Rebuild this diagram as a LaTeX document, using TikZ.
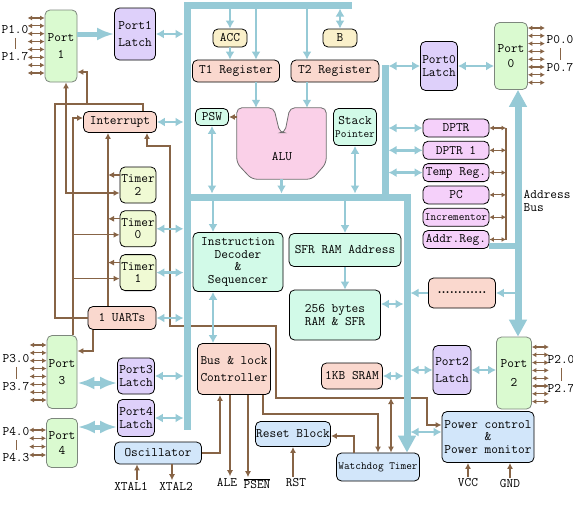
\documentclass[tikz,border=0pt]{standalone}
\usepackage{fontspec}
\usepackage{xcolor}
\usetikzlibrary{positioning,arrows.meta,calc}
\newcommand\diagnarrow{\fontsize{11}{12}\selectfont}
\definecolor{busblue}{RGB}{150,202,214}
\definecolor{wirebrown}{RGB}{135,100,70}
\definecolor{portgreen}{RGB}{218,250,208}
\definecolor{portgray}{RGB}{125,135,125}
\definecolor{latchlilac}{RGB}{222,208,250}
\definecolor{salmon}{RGB}{250,216,206}
\definecolor{timeryellow}{RGB}{240,250,212}
\definecolor{mint}{RGB}{210,250,232}
\definecolor{cream}{RGB}{250,240,202}
\definecolor{paleblue}{RGB}{210,230,250}
\definecolor{regpink}{RGB}{245,208,250}
\definecolor{alupink}{RGB}{250,208,232}
\definecolor{alugray}{RGB}{110,110,110}
\tikzset{
  blk/.style={draw, line width=0.8pt, rounded corners=5pt, align=center, inner sep=0.5pt, font=\ttfamily\fontsize{13}{12.5}\selectfont},
  port/.style={blk, draw=portgray, fill=portgreen, minimum width=32pt, minimum height=72pt},
  latch/.style={blk, fill=latchlilac, minimum width=38pt},
  regbox/.style={blk, fill=regpink, minimum width=66pt, minimum height=18pt},
  timerbox/.style={blk, fill=timeryellow, minimum width=36pt, minimum height=36pt},
  lbl/.style={font=\ttfamily\fontsize{13}{12.5}\selectfont, inner sep=1.5pt},
  bus/.style={draw=busblue, line width=7pt},
  link/.style={draw=busblue, line width=2.5pt, arrows={Latex[length=8pt,width=9pt]-Latex[length=8pt,width=9pt]}},
  feed/.style={draw=busblue, line width=2.5pt, arrows={-Latex[length=8pt,width=9pt]}},
  fatlink/.style={draw=busblue, line width=5pt, arrows={Latex[length=17pt,width=13pt]-Latex[length=17pt,width=13pt]}},
  fatarr/.style={draw=busblue, line width=5pt, arrows={-Latex[length=17pt,width=13pt]}},
  wire/.style={draw=wirebrown, line width=1.2pt},
  warr/.style={wire, arrows={-Latex[length=6pt,width=6pt]}},
  wboth/.style={wire, arrows={Latex[length=6pt,width=6pt]-Latex[length=6pt,width=6pt]}},
  pinarr/.style={wire, line width=1.1pt, arrows={Latex[length=4.5pt,width=5pt]-Latex[length=4.5pt,width=5pt]}}
}

\begin{document}
\begin{tikzpicture}[x=1pt, y=-1pt]
  \fill[white] (0,0) rectangle (573,522);
  \useasboundingbox (0,0) rectangle (573,522);

  % ports and latches
  \node[port] (p1) at (61,46) {Port\\[5pt]1};
  \node[port, minimum width=30pt, minimum height=73pt] (p3) at (62,372) {Port\\[5pt]3};
  \node[port, minimum width=31pt, minimum height=49pt] (p4) at (62,443) {Port\\[3pt]4};
  \node[port, minimum width=33pt, minimum height=67pt] (p0) at (511,56) {Port\\[3pt]0};
  \node[port, minimum width=35pt] (p2) at (514,373) {Port\\[6pt]2};
  \node[latch, minimum width=41pt, minimum height=52pt] (l1) at (135,34) {Port1\\[5pt]Latch};
  \node[latch, minimum width=37pt, minimum height=49pt] (l0) at (439,66) {Port0\\Latch};
  \node[latch, minimum width=37pt, minimum height=36pt] (l3) at (136,376) {Port3\\Latch};
  \node[latch, minimum width=37pt, minimum height=37pt] (l4) at (136,418) {Port4\\Latch};
  \node[latch, minimum height=49pt] (l2) at (452,370) {Port2\\[4pt]Latch};

  \node[blk, fill=salmon, minimum width=73pt, minimum height=21pt] (intr) at (120,122) {Interrupt};
  \node[timerbox] (tmr2) at (138,185) {Timer\\2};
  \node[timerbox, below=7pt of tmr2] (tmr0) {Timer\\0};
  \node[timerbox, below=7pt of tmr0] (tmr1) {Timer\\1};
  \node[blk, fill=salmon, minimum width=68pt, minimum height=23pt] (uart) at (122,318) {1 UARTs};

  \node[blk, fill=cream, minimum width=34pt, minimum height=18pt] (acc) at (230,38) {ACC};
  \node[blk, fill=cream, minimum width=34pt, minimum height=18pt] (regb) at (340,38) {B};
  \node[blk, fill=salmon, minimum width=87pt, minimum height=22pt] (treg1) at (236,71) {T1 Register};
  \node[blk, fill=salmon, minimum width=88pt, minimum height=22pt] (treg2) at (335,71) {T2 Register};
  \node[blk, fill=mint, minimum width=33pt, minimum height=17pt] (psw) at (212,117) {PSW};
  \node[blk, fill=mint, minimum width=43pt, minimum height=37pt] (sp) at (355,127) {Stack\\{\diagnarrow Pointer}};
  \node[inner sep=0pt, minimum width=89pt, minimum height=71pt] (alu) at (281.5,143.5) {};
  \filldraw[fill=alupink, draw=alugray, line width=0.8pt, rounded corners=5pt]
    (alu.west) -- (alu.north west) -- ($(alu.north west)+(37,0)$) -- ($(alu.north west)+(43,25)$)
    -- ($(alu.north west)+(48,25)$) -- ($(alu.north west)+(53,0)$) -- (alu.north east)
    -- ($(alu.south east)+(0,-16)$) -- ($(alu.south east)+(-14,0)$) -- ($(alu.south west)+(15,0)$)
    -- ($(alu.south west)+(0,-16)$) -- cycle;
  \node[lbl] (alulbl) at (282,157) {ALU};

  \node[blk, fill=mint, minimum width=90pt, minimum height=59pt] (idec) at (238,262) {Instruction\\Decoder\\\&\\Sequencer};
  \node[blk, fill=mint, minimum width=112pt, minimum height=33pt] (sfra) at (345,250) {SFR RAM Address};
  \node[blk, fill=mint, minimum width=91pt, minimum height=50pt] (ram) at (335,315) {256 bytes\\RAM \& SFR};
  \node[blk, fill=salmon, minimum width=67pt, minimum height=30pt, font=\rmfamily\bfseries\fontsize{13}{13}\selectfont] (misc) at (462,293) {............};
  \node[blk, fill=salmon, minimum width=73pt, minimum height=51pt] (bctl) at (234,369) {Bus \& lock\\[5pt]Controller};
  \node[blk, fill=salmon, minimum width=61pt, minimum height=26pt] (sram) at (352,376) {1KB SRAM};
  \node[blk, fill=paleblue, minimum width=75pt, minimum height=25pt] (rstb) at (293,434) {Reset Block};
  \node[blk, fill=paleblue, minimum width=83pt, minimum height=28pt] (wdt) at (378,467) {\diagnarrow Watchdog Timer};
  \node[blk, fill=paleblue, minimum width=87pt, minimum height=22pt] (osc) at (158,453) {Oscillator};
  \node[blk, fill=paleblue, minimum width=92pt, minimum height=51pt] (pwr) at (488,437) {Power control\\\&\\Power monitor};

  \node[regbox] (dptr) at (456,128) {DPTR};
  \node[regbox, below=3.5pt of dptr] (dptr1) {DPTR 1};
  \node[regbox, below=3.5pt of dptr1] (tmp) {Temp Reg.};
  \node[regbox, below=3.5pt of tmp] (pc) {PC};
  \node[regbox, below=3.5pt of pc] (inc) {\diagnarrow Incrementor};
  \node[regbox, below=3.5pt of inc] (areg) {Addr.Reg.};

  % pin labels
  \node[lbl] (p10) at (15,30) {P1.0};
  \node[lbl] (p17) at (15,57) {P1.7};
  \node[lbl] (p30) at (16,359) {P3.0};
  \node[lbl] (p37) at (16,387) {P3.7};
  \node[lbl] (p40) at (16,432) {P4.0};
  \node[lbl] (p43) at (16,458) {P4.3};
  \node[lbl] (p00) at (560,40) {P0.0};
  \node[lbl] (p07) at (560,68) {P0.7};
  \node[lbl] (p20) at (561,360) {P2.0};
  \node[lbl] (p27) at (561,389) {P2.7};
  \node[lbl] (xt1) at (131,486) {XTAL1};
  \node[lbl] (xt2) at (176,486) {XTAL2};
  \node[lbl] (ale) at (227,482) {ALE};
  \node[lbl] (psen) at (257,484) {$\overline{\hbox{PSEN}}$};
  \node[lbl] (rstpin) at (296,483) {RST};
  \node[lbl] (vcc) at (468,483) {VCC};
  \node[lbl] (gnd) at (510,484) {GND};
  \node[lbl, anchor=west, align=left] (abuslbl) at (522,201) {Address\\Bus};
  \foreach \a/\b in {p10/p17,p30/p37,p40/p43,p00/p07,p20/p27}{\draw[wire, line width=0.9pt, shorten <=2pt, shorten >=2pt] (\a.south) -- (\b.north);}

  \foreach \pn/\ya/\nr/\dy in {p1/18/7/7.86, p3/345/7/7.86, p4/430/3/8.33}{
    \foreach \k [evaluate=\k as \yy using \ya+\k*\dy] in {0,...,\nr}{\draw[pinarr] (\pn.west |- 0,\yy) -- ++(-17,0);}}
  \foreach \pn/\ya in {p0/28, p2/347}{
    \foreach \k [evaluate=\k as \yy using \ya+\k*7.8] in {0,...,7}{\draw[pinarr] (\pn.east |- 0,\yy) -- ++(17,0);}}

  % brown control wires
  \coordinate (wj1) at (55,104);
  \coordinate (wj2) at (87,104);
  \coordinate (irqx) at (108,0);
  \coordinate (p3x) at (73,0);
  \coordinate (pw1) at (427,398);
  \coordinate (pw2) at (276,326);
  \coordinate (pw3) at (170,146);
  \coordinate (wdx) at (391,398);
  \coordinate (rbx) at (506,0);
  \draw[wire] (uart.west) -| (wj1) -| ([xshift=23pt]intr.north);
  \draw[warr] (wj2) |- ([yshift=-26pt]p1.east);
  \draw[wboth] ([yshift=-8pt]tmr2.west) -| ([xshift=5pt]p1.south);
  \draw[warr] ([xshift=11pt]p3.north) |- ([yshift=4pt]intr.west);
  \foreach \n in {tmr0,tmr1}{\draw[warr] ([yshift=-6pt]\n.west -| p3x) -- ([yshift=-6pt]\n.west);}
  \foreach \n in {tmr2,tmr0,tmr1}{\draw[warr] ([yshift=10pt]\n.west) -- ([yshift=10pt]\n.west -| irqx);}
  \draw[warr] (uart.north -| irqx) -- (intr.south -| irqx);
  \draw[warr] ([xshift=-29pt]uart.south) |- ([yshift=21pt]p3.east);
  \draw[wboth] ([yshift=12pt]pwr.west) -| (pw1) -| (pw2) -| (pw3) -| ([xshift=27pt]intr.south);
  \draw[wboth] (wdx) -- (wdt.north -| wdx);
  \draw[warr] ([xshift=-24pt]wdt.north) |- ([yshift=-2pt]rstb.east);
  \draw[warr] ([xshift=29pt]bctl.south) -- ++(0,19) -| (wdt.north);
  \draw[warr] (osc.east) -| ([xshift=-14pt]bctl.south);
  \draw[warr] ([xshift=-4pt]bctl.south) -- ([xshift=-4pt]bctl.south |- ale.north);
  \draw[warr] ([xshift=14pt]bctl.south) -- ([xshift=14pt]bctl.south |- psen.north);
  \draw[warr] (rstb.south |- rstpin.north) -- (rstb.south);
  \draw[warr] ([xshift=6pt]xt1.north) -- ([xshift=6pt]xt1.north |- osc.south);
  \draw[warr] ([xshift=-4pt]xt2.north |- osc.south) -- ([xshift=-4pt]xt2.north);
  \draw[warr] (vcc.north) -- (vcc.north |- pwr.south);
  \draw[warr] (gnd.north) -- (gnd.north |- pwr.south);
  \draw[warr] (psw.east -| alu.west) -- (psw.east);
  \draw[wire] (dptr.east -| rbx) -- (areg.east -| rbx);
  \foreach \n in {dptr,dptr1,tmp,pc,inc,areg}{\draw[pinarr] (\n.east) -- (\n.east -| rbx);}

  % internal bus
  \coordinate (lbus) at (183.5,0);
  \coordinate (topin) at (0,8.5);
  \coordinate (midup) at (0,193.5);
  \coordinate (middn) at (0,200.5);
  \coordinate (rbus) at (388.5,0);
  \coordinate (ribus) at (403.5,0);
  \coordinate (rrbus) at (410.5,0);
  \coordinate (abus) at (518,0);
  \coordinate (abusl) at (514.5,0);
  \draw[bus] (352,5) -- (187,5) -- (187,430);
  \draw[bus] (385,65) -- (385,197);
  \draw[bus, arrows={-Triangle[length=17pt,width=17pt]}] (187,197) -- (407,197) -- (wdt.north -| 407,0);
  \draw[bus, line width=6pt] ([yshift=-6pt]areg.east) -- ([yshift=-6pt]areg.east -| abus);
  \draw[bus, arrows={Triangle[length=17pt,width=17pt]-Triangle[length=17pt,width=17pt]}] (p0.south -| abus) -- (p2.north -| abus);

  \foreach \n in {l1,intr,tmr0,tmr1,uart,l3,l4}{\draw[link] (\n.east) -- (\n.east -| lbus);}
  \foreach \n in {l0,dptr,dptr1,tmp}{\draw[link] (\n.west) -- (\n.west -| rbus);}
  \draw[link] (l2.west) -- (l2.west -| rrbus);
  \draw[link] (sram.east) -- (sram.east -| ribus);
  \draw[link] ([yshift=11pt]ram.east) -- ([yshift=11pt]ram.east -| ribus);
  \draw[link] ([yshift=5pt]pwr.west) -- ([yshift=5pt]pwr.west -| rrbus);
  \draw[feed] (misc.west) -- (misc.west -| rrbus);
  \draw[feed] (misc.east -| abusl) -- (misc.east);
  \draw[fatarr] (l1.west -| p1.east) -- (l1.west);
  \draw[link] (l0.east) -- (l0.east -| p0.west);
  \draw[fatlink] ([yshift=-7pt]l3.west -| p3.east) -- ([yshift=-7pt]l3.west);
  \draw[fatlink] ([yshift=-9pt]l4.west -| p4.east) -- ([yshift=-9pt]l4.west);
  \draw[link] (l2.east) -- (l2.east -| p2.west);

  \draw[feed] (acc |- topin) -- (acc.north);
  \draw[feed] (acc.south) -- (acc.south |- treg1.north);
  \draw[feed] ([xshift=20pt]treg1.north |- topin) -- ([xshift=20pt]treg1.north);
  \draw[feed] ([xshift=-28pt]treg2.north |- topin) -- ([xshift=-28pt]treg2.north);
  \draw[link] (regb |- topin) -- (regb.north);
  \draw[feed] ([xshift=20pt]treg1.south) -- ([xshift=20pt]treg1.south |- alu.north);
  \draw[feed] ([xshift=-28pt]treg2.south) -- ([xshift=-28pt]treg2.south |- alu.north);
  \draw[link] (psw.south) -- (psw.south |- midup);
  \draw[feed] (alu.south) -- (alu.south |- midup);
  \draw[link] (sp.south) -- (sp.south |- midup);
  \draw[feed] ([xshift=-25pt]idec.north |- middn) -- ([xshift=-25pt]idec.north);
  \draw[feed] (sfra.north |- middn) -- (sfra.north);
  \draw[feed] (sfra.south) -- (sfra.south |- ram.north);
  \draw[link] ([xshift=-25pt]idec.south) -- ([xshift=-25pt]idec.south |- bctl.north);
\end{tikzpicture}
\end{document}
